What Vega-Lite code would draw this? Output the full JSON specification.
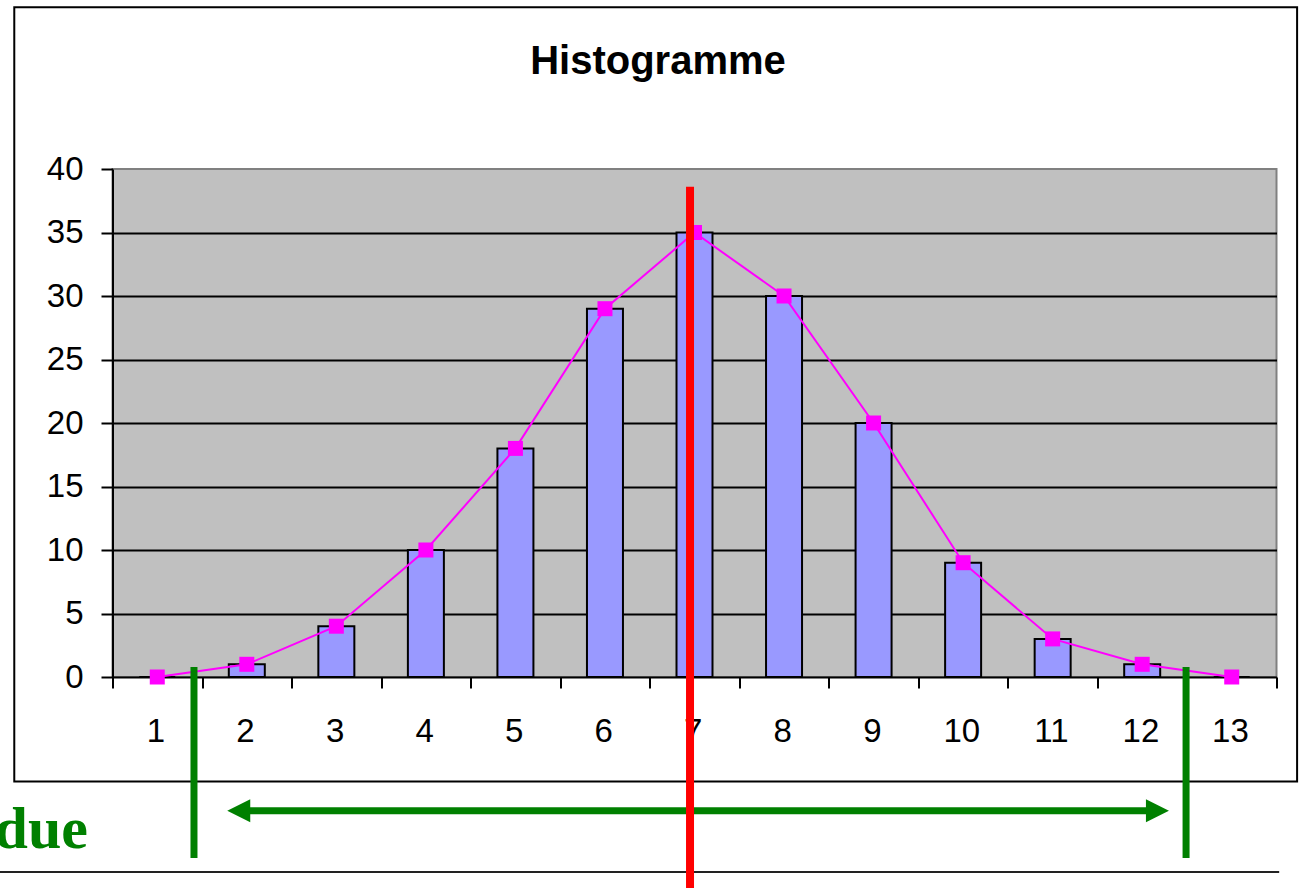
{
  "$schema": "https://vega.github.io/schema/vega-lite/v6.json",
  "autosize": {"type": "none"},
  "width": 1164,
  "height": 508,
  "padding": {"left": 112.5, "top": 169, "right": 22.5, "bottom": 211},
  "background": "white",
  "title": {
    "text": "Histogramme",
    "font": "Liberation Sans",
    "fontSize": 40,
    "fontWeight": "bold",
    "color": "black",
    "anchor": "middle",
    "frame": "group",
    "baseline": "alphabetic",
    "offset": -108,
    "dx": -36.5
  },
  "config": {
    "view": {"stroke": "#808080", "strokeWidth": 2, "fill": "#C0C0C0"},
    "axis": {"labelFont": "Liberation Sans", "labelColor": "black"}
  },
  "datasets": {
    "hist": [
      {"classe": 1, "effectif": 0},
      {"classe": 2, "effectif": 1},
      {"classe": 3, "effectif": 4},
      {"classe": 4, "effectif": 10},
      {"classe": 5, "effectif": 18},
      {"classe": 6, "effectif": 29},
      {"classe": 7, "effectif": 35},
      {"classe": 8, "effectif": 30},
      {"classe": 9, "effectif": 20},
      {"classe": 10, "effectif": 9},
      {"classe": 11, "effectif": 3},
      {"classe": 12, "effectif": 1},
      {"classe": 13, "effectif": 0}
    ]
  },
  "layer": [
    {
      "data": {"values": [{"x": -0.597, "x2": 13.73, "y": 52.73, "y2": -8.23}]},
      "mark": {"type": "rect", "fill": null, "fillOpacity": 0, "stroke": "black", "strokeWidth": 2},
      "encoding": {
        "x": {"field": "x", "type": "quantitative", "scale": {"domain": [0.5, 13.5], "padding": 0}},
        "x2": {"field": "x2"},
        "y": {"field": "y", "type": "quantitative", "scale": {"domain": [0, 40]}},
        "y2": {"field": "y2"}
      }
    },
    {
      "data": {"name": "hist"},
      "mark": {"type": "bar", "width": 36, "fill": "#9999FF", "stroke": "black", "strokeWidth": 2},
      "encoding": {
        "x": {
          "field": "classe", "type": "quantitative",
          "scale": {"domain": [0.5, 13.5], "nice": false, "zero": false, "padding": 0},
          "axis": {
            "title": null,
            "values": [0.5, 1.5, 2.5, 3.5, 4.5, 5.5, 6.5, 7.5, 8.5, 9.5, 10.5, 11.5, 12.5, 13.5],
            "labelExpr": "datum.value < 13 ? format(datum.value + 0.5, 'd') : ''",
            "labelOffset": 43,
            "labelFlush": false,
            "labelOverlap": false,
            "labelBound": false,
            "labelFontSize": 33,
            "labelBaseline": "top",
            "labelPadding": 27,
            "tickSize": 11,
            "tickWidth": 2,
            "tickColor": "black",
            "domainColor": "black",
            "domainWidth": 2,
            "grid": false
          }
        },
        "y": {
          "field": "effectif", "type": "quantitative",
          "scale": {"domain": [0, 40], "nice": false},
          "axis": {
            "title": null,
            "values": [0, 5, 10, 15, 20, 25, 30, 35, 40],
            "labelFontSize": 33,
            "labelPadding": 18,
            "tickSize": 11.5,
            "tickWidth": 2,
            "tickColor": "black",
            "domainColor": "black",
            "domainWidth": 2,
            "grid": true,
            "gridColor": "black",
            "gridWidth": 2,
            "gridOpacity": {"condition": {"test": "datum.value === 0 || datum.value === 40", "value": 0}, "value": 1}
          }
        }
      }
    },
    {
      "data": {"name": "hist"},
      "mark": {"type": "line", "color": "#FF00FF", "strokeWidth": 2},
      "encoding": {
        "x": {"field": "classe", "type": "quantitative"},
        "y": {"field": "effectif", "type": "quantitative"}
      }
    },
    {
      "data": {"name": "hist"},
      "mark": {"type": "point", "shape": "square", "filled": true, "size": 225, "color": "#FF00FF", "opacity": 1},
      "encoding": {
        "x": {"field": "classe", "type": "quantitative"},
        "y": {"field": "effectif", "type": "quantitative"}
      }
    },
    {
      "data": {"values": [{"x": 1.41, "y": 0.79, "y2": -14.25}, {"x": 12.49, "y": 0.79, "y2": -14.25}]},
      "mark": {"type": "rule", "color": "#008000", "strokeWidth": 7},
      "encoding": {
        "x": {"field": "x", "type": "quantitative"},
        "y": {"field": "y", "type": "quantitative"},
        "y2": {"field": "y2"}
      }
    },
    {
      "data": {"values": [{"x": 1.91, "x2": 12.17, "y": -10.53}]},
      "mark": {"type": "rule", "color": "#008000", "strokeWidth": 7},
      "encoding": {
        "x": {"field": "x", "type": "quantitative"},
        "x2": {"field": "x2"},
        "y": {"field": "y", "type": "quantitative"}
      }
    },
    {
      "data": {"values": [{"x": 1.91, "y": -10.53, "sens": "gauche"}, {"x": 12.17, "y": -10.53, "sens": "droite"}]},
      "mark": {"type": "point", "filled": true, "size": 529, "color": "#008000", "opacity": 1},
      "encoding": {
        "x": {"field": "x", "type": "quantitative"},
        "y": {"field": "y", "type": "quantitative"},
        "shape": {
          "field": "sens", "type": "nominal",
          "scale": {"domain": ["gauche", "droite"], "range": ["M1,-1L-1,0L1,1Z", "M-1,-1L1,0L-1,1Z"]},
          "legend": null
        }
      }
    },
    {
      "data": {"values": [{"x": 0.226, "y": -13.46, "texte": "due"}]},
      "mark": {"type": "text", "font": "Liberation Serif", "fontWeight": "bold", "fontSize": 60, "color": "#008000", "align": "right", "baseline": "alphabetic"},
      "encoding": {
        "x": {"field": "x", "type": "quantitative"},
        "y": {"field": "y", "type": "quantitative"},
        "text": {"field": "texte"}
      }
    },
    {
      "data": {"values": [{"x": -0.8, "x2": 13.53, "y": -15.35}]},
      "mark": {"type": "rule", "color": "#222222", "strokeWidth": 2},
      "encoding": {
        "x": {"field": "x", "type": "quantitative"},
        "x2": {"field": "x2"},
        "y": {"field": "y", "type": "quantitative"}
      }
    },
    {
      "data": {"values": [{"x": 6.95, "y": 38.6, "y2": -17.5}]},
      "mark": {"type": "rule", "color": "#FF0000", "strokeWidth": 8},
      "encoding": {
        "x": {"field": "x", "type": "quantitative"},
        "y": {"field": "y", "type": "quantitative"},
        "y2": {"field": "y2"}
      }
    }
  ]
}
